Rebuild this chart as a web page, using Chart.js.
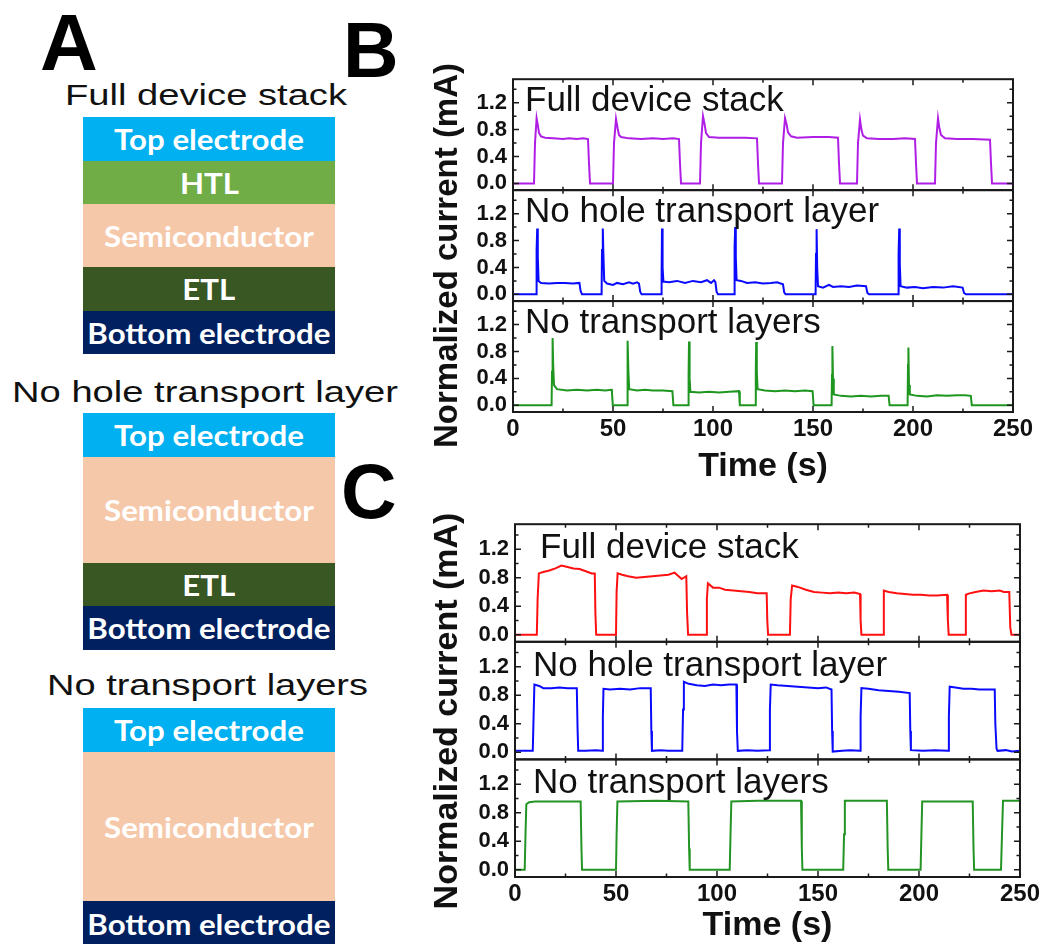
<!DOCTYPE html>
<html>
<head>
<meta charset="utf-8">
<script src="https://cdn.jsdelivr.net/npm/chart.js@4.4.1/dist/chart.umd.min.js"></script>
<style>
  html, body { margin: 0; padding: 0; background: #fff; }
  #fig { position: relative; width: 1043px; height: 944px; overflow: hidden; font-family: 'Liberation Sans', Arial, sans-serif; }
  .abs { position: absolute; white-space: nowrap; color: #111; }
  .letter { position: absolute; font-weight: bold; color: #000; line-height: 1; }
  .stack { position: absolute; left: 83px; width: 252px; }
  .layer { display: flex; align-items: center; justify-content: center; color: #fff; font: bold 28px Lato, sans-serif; overflow: hidden; }
  .layer span { display: inline-block; white-space: nowrap; transform-origin: 50% 50%; }
  .ytitle { position: absolute; width: 500px; text-align: center; font-weight: bold; line-height: 1; color: #111; transform: rotate(-90deg); white-space: nowrap; }
  canvas { position: absolute; }
</style>
</head>
<body>
<div id="fig">
  <div class="letter" style="left:40px;top:3px;font-size:80px">A</div>
  <div class="letter" style="left:343px;top:12px;font-size:77px">B</div>
  <div class="letter" style="left:341px;top:453px;font-size:77px">C</div>

  <div class="abs" id="tA1">Full device stack</div>
  <div class="abs" id="tA2">No hole transport layer</div>
  <div class="abs" id="tA3">No transport layers</div>
  <div class="stack" id="stack1" style="top:117px"></div>
  <div class="stack" id="stack2" style="top:413px"></div>
  <div class="stack" id="stack3" style="top:708px"></div>

  <canvas id="chartB" width="623" height="427" style="left:420px;top:60px;width:623px;height:427px"></canvas>
  <canvas id="chartC" width="623" height="441" style="left:420px;top:505px;width:623px;height:441px"></canvas>
  <div class="ytitle" style="left:195px;top:239px;font-size:33px;height:33px">Normalized current (mA)</div>
  <div class="ytitle" style="left:195px;top:694px;font-size:34px;height:34px">Normalized current (mA)</div>
</div>
<script>
// axis ticks
const X_TICKS = [0, 50, 100, 150, 200, 250];
const X_MINOR = [25, 75, 125, 175, 225];
const Y_TICKS = [0, 0.4, 0.8, 1.2];
const Y_MINOR = [0.2, 0.6, 1.0, 1.4];
const PANEL_LABELS = ['Full device stack', 'No hole transport layer', 'No transport layers'];

// B - full device stack (purple)
const B_FULL_T = [0, 10.5, 11, 11.8, 12.5, 13, 14, 16, 20, 25, 28, 32, 35, 37.5, 38, 38.5,
  50, 50.5, 51.5, 52.3, 53, 54, 58, 64, 70, 75, 80, 83, 83.5, 84,
  93.5, 94, 95, 95.8, 96.5, 98, 103, 110, 116, 122, 122.5, 123,
  134.5, 135, 136, 136.8, 137.5, 139, 142, 150, 158, 162.5, 163, 163.5,
  172, 172.5, 173.5, 174.2, 175, 177, 183, 190, 196, 201, 201.5, 202,
  211, 211.5, 212.5, 213.2, 214, 216, 222, 230, 238.5, 239, 239.5, 250];
const B_FULL_I = [0, 0, 0.6, 0.97, 0.85, 0.75, 0.7, 0.68, 0.67, 0.66, 0.67, 0.66, 0.67, 0.66, 0.3, 0,
  0, 0.6, 0.96, 0.82, 0.72, 0.69, 0.67, 0.66, 0.67, 0.66, 0.67, 0.66, 0.3, 0,
  0, 0.6, 1.0, 0.88, 0.75, 0.69, 0.68, 0.68, 0.68, 0.67, 0.3, 0,
  0, 0.6, 0.97, 0.88, 0.76, 0.7, 0.68, 0.69, 0.69, 0.68, 0.3, 0,
  0, 0.6, 0.95, 0.8, 0.71, 0.67, 0.66, 0.66, 0.67, 0.66, 0.3, 0,
  0, 0.6, 0.97, 0.82, 0.72, 0.67, 0.66, 0.66, 0.65, 0.3, 0, 0];

// B - no hole transport layer (blue)
const B_NOHTL_T = [0, 11.6, 11.8, 12.1, 12.4, 12.8, 14, 18, 22, 26, 30, 33.2, 33.8, 34.5,
  44.3, 44.5, 44.9, 45.2, 45.6, 47, 50, 52, 55, 58, 60, 62, 63, 63.6, 64.3,
  74.1, 74.3, 74.5, 74.8, 75.2, 78, 82, 86, 90, 94, 97, 99, 100.5, 101.2, 101.8, 102.5,
  110.6, 110.8, 111.1, 111.4, 111.8, 114, 117, 121, 125, 129, 132, 135, 135.6, 136.3,
  151.3, 151.5, 151.8, 152.1, 152.5, 155, 158, 160, 164, 168, 172, 176.5, 177.2, 178,
  192.6, 192.8, 193.1, 193.4, 193.8, 197, 201, 205, 210, 215, 220, 224.8, 225.5, 226.5, 250];
const B_NOHTL_I = [0, 0, 0.66, 0.98, 0.55, 0.2, 0.17, 0.16, 0.17, 0.17, 0.16, 0.17, 0.05, 0,
  0, 0.66, 0.98, 0.6, 0.2, 0.16, 0.14, 0.17, 0.15, 0.18, 0.16, 0.18, 0.16, 0.04, 0,
  0, 0.3, 0.98, 0.4, 0.19, 0.18, 0.2, 0.17, 0.2, 0.18, 0.21, 0.17, 0.21, 0.18, 0.04, 0,
  0, 0.7, 1.0, 0.55, 0.21, 0.2, 0.17, 0.18, 0.16, 0.17, 0.18, 0.15, 0.03, 0,
  0, 0.6, 0.97, 0.4, 0.12, 0.1, 0.14, 0.11, 0.12, 0.11, 0.13, 0.12, 0.02, 0,
  0, 0.6, 0.98, 0.45, 0.12, 0.1, 0.11, 0.09, 0.11, 0.1, 0.12, 0.1, 0.02, 0, 0];

// B - no transport layers (green)
const B_NOTL_T = [0, 19.3, 19.5, 19.8, 20.1, 20.5, 22, 27, 32, 37, 42, 46, 49.4, 49.9,
  57, 57.2, 57.4, 57.7, 58.1, 62, 66, 70, 75, 79.7, 80.2,
  87.6, 87.8, 88, 88.3, 88.7, 93, 98, 103, 108, 113, 113.4,
  121.2, 121.4, 121.6, 121.9, 122.3, 126, 131, 136, 141, 146, 149.8, 150.3,
  159.3, 159.5, 159.7, 160, 160.4, 164, 169, 174, 179, 184, 187.8, 188.3,
  197.3, 197.5, 197.7, 198, 198.4, 202, 207, 212, 217, 222, 226, 228.9, 229.4, 250];
const B_NOTL_I = [0, 0, 0.5, 1.0, 0.6, 0.3, 0.24, 0.22, 0.23, 0.22, 0.23, 0.22, 0.23, 0,
  0, 0.5, 0.96, 0.5, 0.24, 0.22, 0.23, 0.22, 0.22, 0.21, 0,
  0, 0.45, 0.95, 0.4, 0.2, 0.19, 0.2, 0.19, 0.2, 0.21, 0,
  0, 0.5, 0.94, 0.5, 0.24, 0.22, 0.21, 0.22, 0.21, 0.22, 0.21, 0,
  0, 0.45, 0.88, 0.4, 0.16, 0.14, 0.13, 0.14, 0.13, 0.14, 0.14, 0,
  0, 0.6, 0.86, 0.3, 0.16, 0.14, 0.13, 0.15, 0.14, 0.15, 0.15, 0.14, 0, 0];

// C - full device stack (red)
const C_FULL_T = [0, 10.8, 11.2, 11.8, 14, 17, 20, 23, 26, 29, 32, 35, 38, 39.5, 39.8, 40.2,
  50, 50.3, 50.8, 53, 56, 60, 64, 68, 72, 76, 79, 81, 82.5, 84.8, 85.2, 85.7,
  94.6, 95, 95.5, 98, 101, 104, 108, 112, 116, 120, 124.6, 124.9, 125.3,
  136.1, 136.5, 137.2, 140, 144, 148, 152, 156, 160, 164, 168, 170.8, 171.1, 171.5,
  182.2, 182.6, 185, 189, 193, 197, 201, 205, 209, 213.9, 214.3, 214.7,
  222.8, 223.2, 225, 228, 232, 236, 240, 242, 244.7, 245.2, 245.8, 250];
const C_FULL_I = [0, 0, 0.5, 0.86, 0.88, 0.9, 0.93, 0.97, 0.95, 0.93, 0.92, 0.89, 0.86, 0.86, 0.3, 0,
  0, 0.6, 0.86, 0.84, 0.82, 0.8, 0.81, 0.82, 0.83, 0.84, 0.87, 0.82, 0.78, 0.82, 0.3, 0,
  0, 0.5, 0.72, 0.66, 0.66, 0.63, 0.62, 0.61, 0.6, 0.58, 0.58, 0.2, 0,
  0, 0.5, 0.69, 0.67, 0.63, 0.6, 0.59, 0.58, 0.59, 0.58, 0.59, 0.57, 0.2, 0,
  0, 0.62, 0.6, 0.58, 0.57, 0.56, 0.56, 0.55, 0.55, 0.56, 0.2, 0,
  0, 0.56, 0.58, 0.6, 0.62, 0.61, 0.62, 0.6, 0.6, 0.1, 0, 0];

// C - no hole transport layer (blue)
const C_NOHTL_T = [0, 8.8, 9.2, 9.6, 12, 14, 18, 22, 26, 30.6, 31, 31.3, 35, 40, 43.2,
  43.5, 43.8, 47, 52, 57, 62, 67.2, 67.5, 67.8, 72, 76, 82.8,
  83.2, 83.6, 86, 90, 94, 98, 102, 106, 109.6, 109.9, 110.3, 115, 120, 125.9,
  126.2, 126.6, 130, 135, 140, 145, 150, 154, 156.7, 157, 157.3, 162, 166, 170.8,
  171.1, 171.5, 175, 180, 185, 190, 195.4, 195.7, 196, 202, 208, 214.5,
  214.8, 215.2, 218, 222, 226, 230, 234, 237.5, 237.8, 238.4, 238.9, 243, 246, 250];
const C_NOHTL_I = [0.02, 0.02, 0.5, 0.95, 0.93, 0.9, 0.9, 0.91, 0.9, 0.9, 0.3, 0.02, 0.02, 0.03, 0.02,
  0.5, 0.89, 0.88, 0.89, 0.88, 0.9, 0.9, 0.3, 0.02, 0.03, 0.02, 0.02,
  0.6, 0.99, 0.96, 0.94, 0.93, 0.95, 0.94, 0.95, 0.95, 0.3, 0.02, 0.03, 0.02, 0.03,
  0.6, 0.95, 0.94, 0.93, 0.92, 0.91, 0.9, 0.91, 0.88, 0.3, 0.01, 0.02, 0.03, 0.02,
  0.5, 0.9, 0.89, 0.87, 0.86, 0.85, 0.83, 0.3, 0.03, 0.02, 0.03, 0.02,
  0.5, 0.92, 0.91, 0.89, 0.89, 0.88, 0.88, 0.88, 0.4, 0.05, 0.02, 0.03, 0.01, 0.02];

// C - no transport layers (green)
const C_NOTL_T = [0, 4.8, 5.2, 5.6, 7, 10, 32.5, 32.9, 33.2,
  50, 50.3, 50.7, 70, 85.8, 86.2, 86.5,
  106.3, 106.7, 107.1, 120, 141.6, 142, 142.3,
  162.5, 162.9, 163.3, 184.1, 184.5, 184.8,
  200.8, 201.2, 201.6, 226.6, 227, 227.3,
  240.6, 241.1, 241.6, 250];
const C_NOTL_I = [0, 0, 0.5, 0.92, 0.95, 0.96, 0.96, 0.3, 0,
  0, 0.5, 0.96, 0.97, 0.96, 0.3, 0,
  0, 0.5, 0.96, 0.97, 0.97, 0.3, 0,
  0, 0.5, 0.97, 0.97, 0.3, 0,
  0, 0.5, 0.96, 0.96, 0.3, 0,
  0, 0.5, 0.97, 0.97];

// Panel A: device stacks
const LAYER_COLORS = {
  'Top electrode': '#00b0f0',
  'HTL': '#70ad47',
  'Semiconductor': '#f6c8aa',
  'ETL': '#385723',
  'Bottom electrode': '#002060'
};
const STACKS = [
  ['stack1', [['Top electrode', 44], ['HTL', 43], ['Semiconductor', 63], ['ETL', 44], ['Bottom electrode', 43]]],
  ['stack2', [['Top electrode', 44], ['Semiconductor', 106], ['ETL', 43], ['Bottom electrode', 44]]],
  ['stack3', [['Top electrode', 44], ['Semiconductor', 149], ['Bottom electrode', 46]]]
];

const mctx = document.createElement('canvas').getContext('2d');
function textWidth(text, font) {
  mctx.font = font;
  return mctx.measureText(text).width;
}

// stretch a text line to span [left, right] with its baseline at y
function fitText(id, size, left, right, baseline) {
  const el = document.getElementById(id);
  const font = size + "px 'Liberation Sans', Arial, sans-serif";
  el.style.font = font;
  el.style.lineHeight = '1';
  el.style.left = left + 'px';
  el.style.top = (baseline - 0.8465 * size) + 'px';
  el.style.transformOrigin = '0 0';
  el.style.transform = 'scaleX(' + ((right - left) / textWidth(el.textContent, font)) + ')';
}

fitText('tA1', 30, 65, 347, 105);
fitText('tA2', 30, 12, 398, 402);
fitText('tA3', 30, 47, 368, 695);

const layerScale = 243 / textWidth('Bottom electrode', 'bold 28px Lato');
STACKS.forEach(([id, layers]) => {
  const box = document.getElementById(id);
  layers.forEach(([name, h]) => {
    const d = document.createElement('div');
    d.className = 'layer';
    d.style.height = h + 'px';
    d.style.background = LAYER_COLORS[name];
    const s = document.createElement('span');
    s.textContent = name;
    s.style.transform = 'scaleX(' + layerScale + ')';
    d.appendChild(s);
    box.appendChild(d);
  });
});

Chart.defaults.font.family = "'Liberation Sans', Arial, sans-serif";
Chart.defaults.color = '#111';

// frames with inward ticks + subplot labels
const framePlugin = {
  id: 'frames',
  afterDatasetsDraw(chart, args, opts) {
    const { ctx, chartArea: a, scales } = chart;
    const x = scales.x;
    ctx.save();
    ctx.strokeStyle = '#1a1a1a';
    opts.axes.forEach((id, i) => {
      const y = scales[id];
      const top = y.top, bottom = y.bottom;
      ctx.lineWidth = 1.5;
      ctx.beginPath();
      X_TICKS.forEach(v => {
        const px = x.getPixelForValue(v);
        ctx.moveTo(px, top); ctx.lineTo(px, top + 6);
        ctx.moveTo(px, bottom); ctx.lineTo(px, bottom - 6);
      });
      X_MINOR.forEach(v => {
        const px = x.getPixelForValue(v);
        ctx.moveTo(px, top); ctx.lineTo(px, top + 3.5);
        ctx.moveTo(px, bottom); ctx.lineTo(px, bottom - 3.5);
      });
      Y_TICKS.forEach(v => {
        const py = y.getPixelForValue(v);
        ctx.moveTo(a.left, py); ctx.lineTo(a.left + 6, py);
        ctx.moveTo(a.right, py); ctx.lineTo(a.right - 6, py);
      });
      Y_MINOR.forEach(v => {
        const py = y.getPixelForValue(v);
        ctx.moveTo(a.left, py); ctx.lineTo(a.left + 3.5, py);
        ctx.moveTo(a.right, py); ctx.lineTo(a.right - 3.5, py);
      });
      ctx.stroke();
      ctx.lineWidth = 2;
      ctx.strokeRect(a.left, top, a.right - a.left, bottom - top);

      ctx.fillStyle = '#111';
      ctx.font = "35px 'Liberation Sans', Arial, sans-serif";
      ctx.textBaseline = 'alphabetic';
      ctx.fillText(opts.labels[i], a.left + opts.dx[i], top + opts.dy);
    });
    ctx.restore();
  }
};

function makePanel(canvasId, traces, colors, o) {
  const yIds = ['y1', 'y2', 'y3']; // top to bottom
  const scales = {
    x: {
      type: 'linear', min: 0, max: 250,
      afterBuildTicks: s => { s.ticks = X_TICKS.map(v => ({ value: v })); },
      ticks: { padding: o.tickPad, maxRotation: 0, autoSkip: false, color: '#111', font: { size: 24, weight: 'bold' } },
      grid: { display: false, drawTicks: false },
      border: { display: false },
      title: { display: true, text: 'Time (s)', color: '#111', padding: 0, font: { size: 34, weight: 'bold' } },
      afterFit: s => { s.height = o.xH; }
    }
  };
  // bottom subplot defined first, so the last one ends at the top of the stack
  [2, 1, 0].forEach(i => {
    scales[yIds[i]] = {
      type: 'linear', position: 'left', stack: 'p', stackWeight: 1,
      min: -0.1, max: 1.55,
      afterBuildTicks: s => { s.ticks = Y_TICKS.map(v => ({ value: v })); },
      ticks: { padding: 6, autoSkip: false, color: '#111', font: { size: 22, weight: 'bold' }, callback: v => v.toFixed(1) },
      grid: { display: false, drawTicks: false },
      border: { display: false },
      afterFit: s => { s.width = o.yW; }
    };
  });

  new Chart(document.getElementById(canvasId), {
    type: 'line',
    data: {
      datasets: traces.map((tr, i) => ({
        data: tr[0].map((t, k) => ({ x: t, y: tr[1][k] })),
        yAxisID: yIds[i],
        borderColor: colors[i],
        borderWidth: 2,
        pointRadius: 0,
        tension: 0,
        fill: false
      }))
    },
    options: {
      responsive: false,
      animation: false,
      layout: { padding: o.pad },
      scales: scales,
      plugins: {
        legend: { display: false },
        tooltip: { enabled: false },
        frames: { axes: yIds, labels: PANEL_LABELS, dx: o.labelDx, dy: o.labelDy }
      }
    },
    plugins: [framePlugin]
  });
}

makePanel('chartB',
  [[B_FULL_T, B_FULL_I], [B_NOHTL_T, B_NOHTL_I], [B_NOTL_T, B_NOTL_I]],
  ['#b01ee6', '#0a0aff', '#1f961f'],
  { pad: { top: 8, right: 30, bottom: 0, left: 0 }, yW: 93, xH: 75, tickPad: 3, labelDx: [12, 12, 12], labelDy: 32 });

makePanel('chartC',
  [[C_FULL_T, C_FULL_I], [C_NOHTL_T, C_NOHTL_I], [C_NOTL_T, C_NOTL_I]],
  ['#ff1010', '#0a0aff', '#239423'],
  { pad: { top: 15, right: 23, bottom: 0, left: 0 }, yW: 95, xH: 69, tickPad: 3, labelDx: [25, 18, 18], labelDy: 34 });
</script>
</body>
</html>
